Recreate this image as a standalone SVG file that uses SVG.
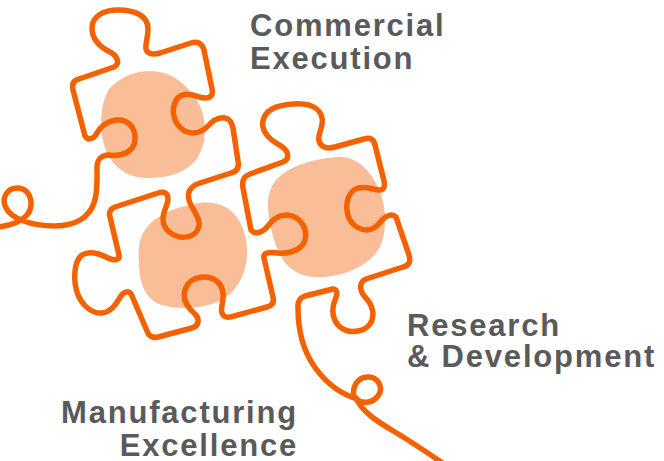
<svg xmlns="http://www.w3.org/2000/svg" width="664" height="461" viewBox="0 0 664 461">
<style>
.blob{fill:#F9BD98;stroke:none}
.line{fill:none;stroke:#F46200;stroke-width:5.5;stroke-linecap:round;stroke-linejoin:round}
.lbl{font-family:"Liberation Sans",Arial,sans-serif;font-weight:bold;font-size:31px;fill:#5A5A5A;letter-spacing:1.8px}
</style>
<rect width="664" height="461" fill="#FFFFFF"/>
<g id="blobs">
<path class="blob" d="M110,88 C122,76 136,71 150,71 C172,71 190,86 200,106 C208,124 206,146 196,160 C184,174 166,178 148,178 C128,178 113,168 106,150 C100,136 98,104 110,88 Z"/>
<path class="blob" d="M145,230 C155,215 175,207 200,203 C225,200 242,215 246,240 C250,262 243,285 225,298 C208,309 180,310 162,305 C146,300 140,285 139,265 C138,250 139,238 145,230 Z"/>
<path class="blob" d="M278,178 C290,166 315,158 340,157 C360,157 374,175 381,195 C388,215 386,240 376,253 C365,267 345,275 325,277 C305,279 290,272 282,258 C274,244 268,222 268,205 C268,192 272,184 278,178 Z"/>
</g>
<g id="line">
<path class="line" d="M-3,227 C8,226 20,223 27,215 C34,206 32,190 19,188 C7,187 1,198 6,208 C11,218 30,226 55,226 C76,226 89,217 94,203 C98,192 97,178 97,168 C97,160 100,156 108,155
C122,157 134,152 135,140 C136,127 127,119 117,120 C107,121 100,127 97,133 C94,139 88,141 85,136
L73,90 Q71,81 79,79 L114,67 C120,64 118,56 110,52 C100,47 92,40 92,28 C92,16 104,10 118,10 C134,10 148,15 148,29 C148,38 145,44 146,49 C147,54 153,55 160,53
L191,43 Q201,40 204,50 L212,89 Q214,98 205,98 C197,98 192,92 183,95 C175,97 172,108 174,116 C176,126 184,133 193,133 C202,133 207,127 211,123 C215,119 222,116 228,119 C231,121 232,124 233,128 L238,161 Q240,171 231,173
L200,183 C190,186 186,193 190,203 C194,212 202,220 198,229 C195,236 186,238 180,237 C170,235 163,228 163,219 C163,211 168,205 168,199 C168,193 164,191 158,193
L115,207 Q108,210 110,217 L119,255 C120,260 114,261 108,258 C100,254 90,250 82,255 C74,261 73,280 77,292 C81,305 92,314 102,313 C112,312 117,302 121,296 C124,291 130,290 132,296
L147,331 Q150,339 158,337 L192,328 C199,326 200,319 195,314 C188,308 182,300 185,290 C188,281 196,277 204,277 C214,277 222,283 223,293 C224,302 220,308 222,313 C224,318 228,318 234,316
L267,307 Q275,305 273,297 L264,258 C263,252 270,252 278,253 C290,254 302,250 305,240 C308,228 300,216 287,215 C278,215 272,220 268,226 C264,231 256,236 251,230
L243,188 Q241,177 250,174 L283,162 C290,159 289,151 281,146 C270,140 261,132 263,121 C265,110 277,105 293,104 C308,103 320,107 322,118 C324,128 317,134 319,141 C321,148 328,149 335,147
L364,139 Q373,136 375,145 L384,181 Q386,191 378,190 C371,189 366,186 358,188 C349,191 346,201 347,210 C348,221 355,229 366,230 C374,230 378,225 382,220 C386,216 392,213 396,217
L409,255 Q412,265 403,267 L366,279 C359,282 359,290 365,297 C372,304 376,315 370,324 C365,331 352,334 343,329 C334,324 331,313 334,303 C337,295 339,290 333,289
L305,296 Q297,299 298,308 C298,330 303,350 314,366 C325,382 340,393 354,398 C352,388 356,378 367,377 C378,376 384,388 378,396 C372,404 360,404 356,398 C362,412 378,422 395,432 C410,441 425,451 447,466"/>
</g>
<g id="labels">
<text class="lbl" x="250" y="36">Commercial</text>
<text class="lbl" x="250" y="69">Execution</text>
<text class="lbl" x="407" y="336">Research</text>
<text class="lbl" x="407" y="367">&amp; Development</text>
<text class="lbl" x="298" y="423" text-anchor="end">Manufacturing</text>
<text class="lbl" x="298" y="455.5" text-anchor="end">Excellence</text>
</g>
</svg>
